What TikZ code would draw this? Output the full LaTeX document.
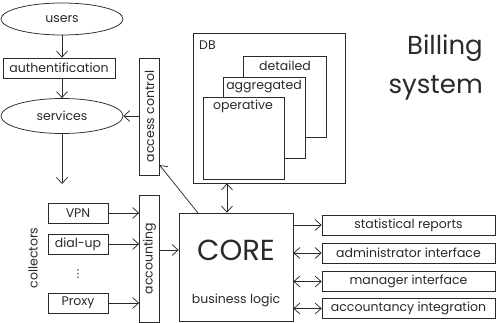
\documentclass[tikz,border=0pt]{standalone}
\usepackage{fontspec}
\setmainfont{Poppins}
\newfontfamily\djv{DejaVu Sans}
\usetikzlibrary{arrows.meta,shapes.geometric,calc}
\definecolor{ink}{HTML}{2A2A2A}
\tikzset{
  lbl/.style={font=\fontsize{12.5}{14}\selectfont, text=ink, inner sep=0pt},
  box/.style={draw=ink, line width=0.75pt, inner sep=0pt, fill=white, lbl},
  oval/.style={ellipse, draw=ink, line width=0.75pt, inner sep=0pt, lbl},
  arr/.style={draw=ink, line width=0.75pt, -{Straight Barb[length=6pt,width=11pt]}},
  darr/.style={draw=ink, line width=0.75pt, {Straight Barb[length=6pt,width=11pt]}-{Straight Barb[length=6pt,width=11pt]}},
}
\begin{document}
\begin{tikzpicture}[x=1pt,y=-1pt]
\useasboundingbox (0,0) rectangle (500,323);
% left column
\node[oval, minimum width=122, minimum height=32] (users) at (62,19) {users};
\node[box, minimum width=112, minimum height=20] (auth) at (59,68) {authentification};
\node[oval, minimum width=122, minimum height=35] (serv) at (62,116) {services};
\coordinate (servend) at (62,184);
\draw[arr] (users) -- (users.south |- auth.north);
\draw[arr] (users.south |- auth.south) -- (serv.north);
\draw[arr] (serv.south) -- (servend);
% access control
\node[box, minimum width=20, minimum height=117] (ac) at (149.5,116.5) {};
\node[lbl, rotate=90] (actext) at (ac.center) {access control};
\draw[arr] (ac.west |- serv.east) -- (serv.east);
% collectors
\node[box, minimum width=60, minimum height=20] (vpn) at (78,213) {VPN};
\node[box, minimum width=60, minimum height=20] (dial) at (78,244) {dial-up};
\node[lbl, font=\djv\fontsize{11}{13}\selectfont] (dots) at (78,274) {⋮};
\node[box, minimum width=60, minimum height=20] (proxy) at (78,303) {Proxy};
\node[lbl, rotate=90] (coll) at (33,258) {collectors};
% accounting
\node[box, minimum width=20, minimum height=127] (acc) at (149.5,258.5) {};
\node[lbl, rotate=90] (acctext) at (acc.center) {accounting};
\draw[arr] (vpn.east) -- (acc.west |- vpn.east);
\draw[arr] (dial.east) -- (acc.west |- dial.east);
\draw[arr] (proxy.east) -- (acc.west |- proxy.east);
% core
\node[box, minimum width=114, minimum height=108] (core) at (236,267) {};
\node[lbl, font=\fontsize{29}{32}\selectfont] (coretext) at (236,250) {CORE};
\node[lbl] (bl) at (236,300) {business logic};
\draw[arr] (acc.east |- coretext) -- (core.west |- coretext);
\coordinate (acctip) at (159.5,165);
\coordinate (corecorner) at (198,213);
\draw[arr] (corecorner) -- (acctip);
% DB
\node[box, minimum width=152, minimum height=150] (db) at (269,108) {};
\node[lbl, anchor=west] (dbl) at (199,45) {DB};
\node[box, minimum width=83, minimum height=81] (det) at (284.5,96.5) {};
\node[box, minimum width=82, minimum height=81] (agg) at (264,117.5) {};
\node[box, minimum width=81, minimum height=82] (op) at (243.5,138) {};
\node[lbl] (detl) at (285,66) {detailed};
\node[lbl] (aggl) at (264,87) {aggregated};
\node[lbl] (opl) at (243,106) {operative};
\coordinate (dbx) at (227,0);
\draw[darr] (db.south -| dbx) -- (core.north -| dbx);
% right boxes
\node[box, minimum width=173, minimum height=20] (stat) at (408.5,225) {statistical reports};
\node[box, minimum width=173, minimum height=20] (adm) at (408.5,253) {administrator interface};
\node[box, minimum width=173, minimum height=20] (man) at (408.5,281.5) {manager interface};
\node[box, minimum width=173, minimum height=20] (acct) at (408.5,308.5) {accountancy integration};
\draw[arr] (core.east |- stat.west) -- (stat.west);
\draw[darr] (core.east |- adm.west) -- (adm.west);
\draw[darr] (core.east |- man.west) -- (man.west);
\draw[darr] (core.east |- acct.west) -- (acct.west);
% title
\node[lbl, font=\fontsize{26}{39}\selectfont, align=right, anchor=east] (title) at (483,67) {Billing\\system};
\end{tikzpicture}
\end{document}
